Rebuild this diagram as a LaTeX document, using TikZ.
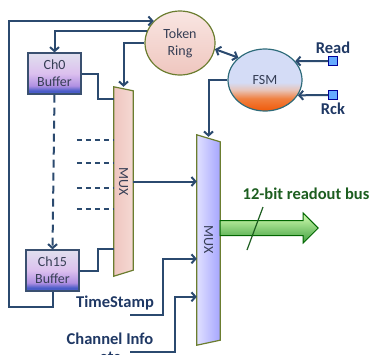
\documentclass[tikz,border=0pt]{standalone}
\usepackage{fontspec}
\setsansfont{Carlito}
\usepackage{tikz}
\usetikzlibrary{calc, positioning, shapes.geometric, arrows.meta}

\definecolor{wirecol}{HTML}{2B4A6F}
\definecolor{olive}{HTML}{6B7D2F}
\definecolor{fsmline}{HTML}{2E6B7A}
\definecolor{fsmtop}{HTML}{D4DCF6}
\definecolor{fsmmid}{HTML}{E8C4B8}
\definecolor{fsmlow}{HTML}{F08040}
\definecolor{fsmbot}{HTML}{F05A0A}
\definecolor{buftop}{HTML}{E0E0EE}
\definecolor{buflight}{HTML}{DCC0EE}
\definecolor{bufmid}{HTML}{B090E2}
\definecolor{bufbot}{HTML}{4A5CC8}
\definecolor{boxline}{HTML}{3A5070}
\definecolor{inner}{HTML}{363E55}
\definecolor{lblcol}{HTML}{1F3864}
\definecolor{pinkA}{HTML}{F9E6E2}
\definecolor{pinkB}{HTML}{EFC6BF}
\definecolor{busdark}{HTML}{1D5E20}

\pgfdeclareverticalshading{fsmshade}{100bp}{color(0bp)=(fsmbot); color(25bp)=(fsmbot); color(35bp)=(fsmlow); color(42bp)=(fsmmid); color(48bp)=(fsmtop); color(100bp)=(fsmtop)}
\pgfdeclareverticalshading{bufshade}{100bp}{color(0bp)=(bufbot); color(25bp)=(bufbot); color(29bp)=(bufbot); color(35bp)=(bufmid); color(50bp)=(buflight); color(75bp)=(buftop); color(100bp)=(buftop)}

\tikzset{
    >={Straight Barb[length=4pt,width=9pt]},
    wire/.style={draw=wirecol, line width=2pt},
    inner text/.style={font=\sffamily\fontsize{14}{17}\selectfont, text=inner, align=center},
    lbl/.style={font=\sffamily\bfseries\fontsize{16.5}{18}\selectfont, text=lblcol, inner sep=1pt},
    buffer/.style={draw=boxline, line width=1.2pt, minimum width=53pt, minimum height=41pt,
        shading=bufshade, inner text},
    pin/.style={draw=blue!60!black, fill=blue!55!cyan!60!white, line width=0.6pt, minimum size=9pt, inner sep=0pt},
    muxbox/.style={minimum width=#1, inner sep=0pt},
}

\begin{document}
\begin{tikzpicture}[x=1pt, y=-1pt]
        \useasboundingbox (0,0) rectangle (374,354);

        % control blocks
        \node[ellipse, draw=olive, line width=1.2pt, minimum width=70pt, minimum height=64pt,
            top color=pinkA, bottom color=pinkB, inner text] (ring) at (180,43) {Token\\Ring};

        \node[ellipse, draw=fsmline, line width=1.2pt, minimum width=74pt, minimum height=62pt,
            shading=fsmshade, inner text] (fsm) at (265,80) {FSM};

        \node[pin] (read) at (333,61) {};
        \node[pin] (rck) at (333,95) {};
        \node[lbl, above=1pt of read] (readlbl) {Read};
        \node[lbl, below=2pt of rck] (rcklbl) {Rck};

        % buffers
        \node[buffer] (ch0) at (54.5,73.5) {Ch0\\Buffer};
        \node[buffer] (ch15) at (52.5,270.5) {Ch15\\Buffer};

        % the two multiplexers
        \node[muxbox=19pt, minimum height=189pt] (muxa) at (123.5,181.5) {};
        \shade[draw=olive, line width=1.2pt, left color=pinkB, right color=pinkA!60!pinkB]
            (muxa.north west) -- ($(muxa.north east)+(0,4)$) -- ($(muxa.south east)+(0,-6)$) -- (muxa.south west) -- cycle;
        \node[inner text, rotate=-90] (muxalbl) at (muxa) {MUX};

        \node[muxbox=23pt, minimum height=210pt] (muxb) at (208.5,240) {};
        \shade[draw=olive, line width=1.2pt, left color=blue!12, right color=blue!35!white]
            (muxb.north west) -- ($(muxb.north east)+(0,7)$) -- ($(muxb.south east)+(0,-5)$) -- (muxb.south west) -- cycle;
        \node[inner text, rotate=-90] (muxblbl) at (muxb) {MUX};

        % readout bus
        \coordinate (bus) at (muxb.east |- 0,228);
        \shade[draw=green!40!black, line width=1pt, top color=green!55!yellow!30, bottom color=green!50!black!75!white]
            ($(bus)+(0,-7.5)$) -- ++(83,0) -- ++(0,-7.5) -- ++(15,15) -- ++(-15,15) -- ++(0,-7.5) -- ++(-83,0) -- cycle;
        \coordinate (slashlo) at (247,250);
        \coordinate (slashhi) at (263,207);
        \draw[busdark, line width=1.2pt] (slashlo) -- (slashhi);
        \node[lbl, text=busdark] (buslbl) at (306,194) {12-bit readout bus};

        % connections
        \draw[wire, ->] (ring.160) -| (ch0.north);
        \coordinate (loop) at (9,307);
        \draw[wire, ->] (ch15.south) |- (loop) |- (ring.140);
        \draw[wire, ->] (ring.west) -| (muxa.north);
        \draw[wire, <->] (ring.-10) -- (fsm.140);
        \draw[wire, ->] (read.west) -- (fsm.32);
        \draw[wire, ->] (rck.west) -- (fsm.-25);
        \draw[wire, ->] (fsm.west) -| ($(muxb.north)+(0,2)$);

        \draw[wire] (ch0.east) -- ++(16,0) |- ($(muxa.north west)+(0,12)$);
        \draw[wire] (ch15.east) -- ++(18,0) |- ($(muxa.north west)+(0,162)$);
        \draw[wire, dashed, dash pattern=on 8pt off 5pt, ->] (ch0.south) -- (ch15.north);
        \foreach \y in {53,76,101,122}
            \draw[wire, dashed, dash pattern=on 5pt off 4pt] ($(muxa.north west)+(-37,\y)$) -- ++(37,0);

        \draw[wire, ->] (muxa.east) -- (muxa.east -| muxb.west);

        \node[lbl] (tslbl) at (115,303) {TimeStamp};
        \node[lbl, align=center, anchor=north] (cilbl) at (110,332) {Channel Info\\etc};
        \coordinate (tsfrom) at (130,315);
        \coordinate (cifrom) at (130,352);
        \draw[wire, ->] (tsfrom) -- ++(33,0) |- ($(muxb.north west)+(0,124)$);
        \draw[wire, ->] (cifrom) -- ++(45,0) |- ($(muxb.north west)+(0,162)$);
    \end{tikzpicture}
\end{document}
